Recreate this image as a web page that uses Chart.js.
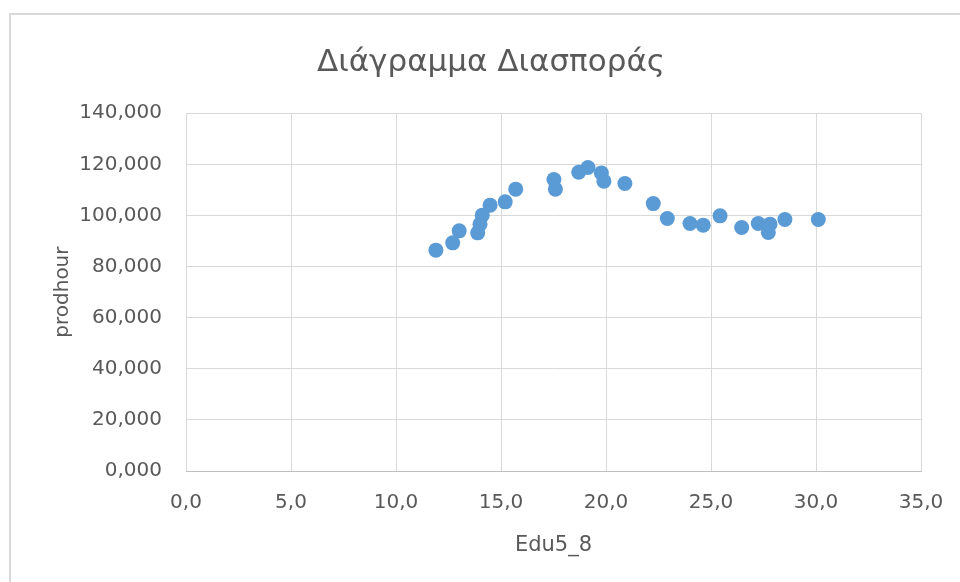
<!DOCTYPE html>
<html>
<head>
<meta charset="utf-8">
<script src="https://cdn.jsdelivr.net/npm/chart.js@4/dist/chart.umd.min.js"></script>
<style>
  html, body { margin: 0; padding: 0; background: #ffffff; overflow: hidden; width: 960px; height: 582px; }
  #frame { position: absolute; left: 9px; top: 13px; width: 1000px; height: 1000px; border-left: 2px solid #d9d9d9; border-top: 2px solid #d9d9d9; }
  #wrap { position: absolute; left: 0; top: 0; width: 982px; height: 582px; }
</style>
</head>
<body>
<div id="frame"></div>
<div id="wrap"><canvas id="chart" width="982" height="582"></canvas></div>
<script>
// Edu5_8 (x) against prodhour (y)
const edu5_8 = [11.90, 12.70, 13.01, 13.89, 14.00, 14.11, 14.48, 15.20, 15.70, 17.52, 17.59,
                18.70, 19.14, 19.78, 19.90, 20.90, 22.25, 22.92, 24.00, 24.63, 25.43, 26.46,
                27.25, 27.81, 27.73, 28.52, 30.11];
const prodhour = [86.42, 89.28, 93.97, 93.19, 96.59, 100.11, 104.02, 105.31, 110.28, 114.07, 110.28,
                  116.87, 118.76, 116.65, 113.41, 112.51, 104.62, 98.82, 96.86, 96.20, 99.84, 95.30,
                  96.86, 96.59, 93.35, 98.43, 98.43];
const xTicks = [0, 5, 10, 15, 20, 25, 30, 35];
const yTicks = [0, 20, 40, 60, 80, 100, 120, 140];

const points = edu5_8.map((x, i) => ({ x: x, y: prodhour[i] }));
const grey = '#595959';
const font = 'DejaVu Sans';
const comma = (v, d) => v.toFixed(d).replace('.', ',');

new Chart(document.getElementById('chart'), {
  type: 'scatter',
  data: {
    datasets: [{
      label: 'prodhour',
      data: points,
      backgroundColor: '#5b9bd5',
      borderColor: '#5b9bd5',
      borderWidth: 0,
      pointRadius: 7.5,
      pointHoverRadius: 7.5
    }]
  },
  options: {
    responsive: false,
    animation: false,
    layout: { padding: 0 },
    plugins: {
      legend: { display: false },
      tooltip: { enabled: false },
      title: {
        display: true,
        text: 'Διάγραμμα Διασποράς',
        color: grey,
        font: { family: font, size: 31, weight: 'normal', lineHeight: 1.2 },
        padding: { top: 44, bottom: 32 }
      }
    },
    scales: {
      x: {
        type: 'linear',
        min: 0, max: 35,
        afterBuildTicks: s => { s.ticks = xTicks.map(v => ({ value: v })); },
        afterFit: s => { s.height = 111; },
        ticks: {
          color: grey,
          padding: 20,
          font: { family: font, size: 20 },
          callback: v => comma(v, 1)
        },
        grid: { color: '#d9d9d9', lineWidth: 1, drawTicks: false },
        border: { display: true, color: '#bfbfbf', width: 1 },
        title: {
          display: true,
          text: 'Edu5_8',
          color: grey,
          font: { family: font, size: 21 },
          padding: { top: 0, bottom: 24 }
        }
      },
      y: {
        type: 'linear',
        min: 0, max: 140,
        afterBuildTicks: s => { s.ticks = yTicks.map(v => ({ value: v })); },
        afterFit: s => { s.width = 186; },
        ticks: {
          color: grey,
          padding: 24,
          font: { family: font, size: 20 },
          callback: v => comma(v, 3)
        },
        grid: { color: '#d9d9d9', lineWidth: 1, drawTicks: false },
        border: { display: false },
        title: {
          display: true,
          text: 'prodhour',
          color: grey,
          font: { family: font, size: 20 },
          padding: { top: 51, bottom: 0 }
        }
      },
      // empty right-hand strip so the plot ends where the frame's right margin begins
      gutter: {
        type: 'linear',
        position: 'right',
        display: true,
        afterFit: s => { s.width = 61; },
        ticks: { display: false },
        grid: { display: false, drawTicks: false },
        border: { display: false }
      }
    }
  }
});
</script>
</body>
</html>
